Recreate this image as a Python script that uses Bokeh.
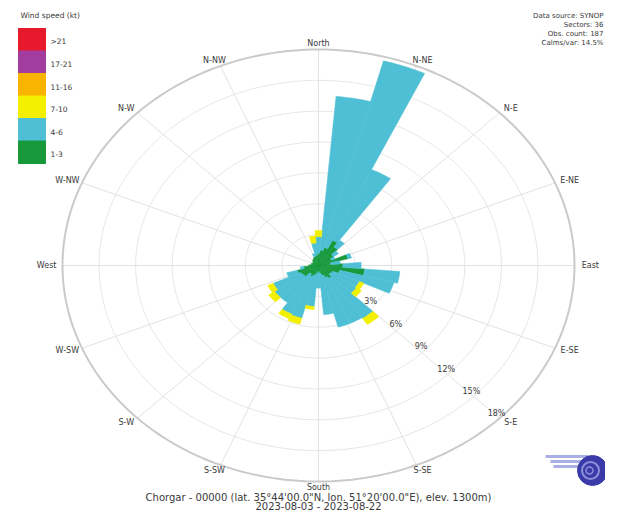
import numpy as np
from bokeh.plotting import figure
from bokeh.models import Range1d
from bokeh.core.properties import value
from bokeh.embed import file_html
from bokeh.resources import INLINE

# ---------------- data ----------------
sector_bearings = [0, 10, 20, 30, 40, 50, 60, 70, 80, 90, 100, 110,
                   120, 130, 140, 150, 160, 170, 180, 190, 200, 210, 220, 230,
                   240, 250, 260, 270, 280, 290, 300, 310, 320, 330, 340, 350]
speed_classes = ["1-3", "4-6", "7-10", "11-16", "17-21", ">21"]
speed_colors = ["#17993c", "#4fbfd5", "#f2ef00", "#f8b400", "#a23c9f", "#e8192c"]

freq_1_3 = [1.2, 1.5, 1.8, 2.7, 2.2, 1.5, 1.2, 2.5, 1.0, 2.0, 3.8, 1.8,
            1.3, 1.2, 1.5, 1.3, 1.0, 0.8, 0.6, 0.8, 1.0, 1.2, 1.0, 1.5,
            1.6, 1.8, 1.2, 0.8, 0.6, 0.6, 0.5, 0.6, 0.7, 0.8, 0.9, 1.0]
freq_4_6 = [1.6, 15.0, 18.8, 7.6, 0.8, 0.5, 0.3, 0.3, 0.8, 1.5, 2.9, 4.6,
            2.4, 2.6, 4.8, 4.9, 5.2, 4.0, 1.6, 3.2, 4.3, 4.0, 3.4, 2.9,
            2.5, 0.9, 0.3, 0.0, 0.0, 0.0, 0.0, 0.0, 0.0, 0.0, 0.3, 1.2]
freq_7_10 = [0.6, 0.0, 0.0, 0.0, 0.0, 0.0, 0.0, 0.0, 0.0, 0.0, 0.0, 0.0,
             0.4, 0.5, 0.7, 0.0, 0.0, 0.0, 0.0, 0.3, 0.6, 0.5, 0.0, 0.6,
             0.5, 0.0, 0.0, 0.0, 0.0, 0.0, 0.0, 0.0, 0.0, 0.0, 0.0, 0.7]
freq_11_16 = [0.0, 0.0, 0.0, 0.0, 0.0, 0.0, 0.0, 0.0, 0.0, 0.0, 0.0, 0.0,
              0.0, 0.0, 0.0, 0.0, 0.0, 0.0, 0.0, 0.0, 0.0, 0.0, 0.0, 0.0,
              0.0, 0.0, 0.0, 0.0, 0.0, 0.0, 0.0, 0.0, 0.0, 0.0, 0.0, 0.0]
freq_17_21 = [0.0, 0.0, 0.0, 0.0, 0.0, 0.0, 0.0, 0.0, 0.0, 0.0, 0.0, 0.0,
              0.0, 0.0, 0.0, 0.0, 0.0, 0.0, 0.0, 0.0, 0.0, 0.0, 0.0, 0.0,
              0.0, 0.0, 0.0, 0.0, 0.0, 0.0, 0.0, 0.0, 0.0, 0.0, 0.0, 0.0]
freq_gt_21 = [0.0, 0.0, 0.0, 0.0, 0.0, 0.0, 0.0, 0.0, 0.0, 0.0, 0.0, 0.0,
              0.0, 0.0, 0.0, 0.0, 0.0, 0.0, 0.0, 0.0, 0.0, 0.0, 0.0, 0.0,
              0.0, 0.0, 0.0, 0.0, 0.0, 0.0, 0.0, 0.0, 0.0, 0.0, 0.0, 0.0]

ring_values = [3, 6, 9, 12, 15, 18]
ring_labels = ["3%", "6%", "9%", "12%", "15%", "18%"]
ring_max = 21
direction_labels = ["North", "N-NE", "N-E", "E-NE", "East", "E-SE", "S-E", "S-SE",
                    "South", "S-SW", "S-W", "W-SW", "West", "W-NW", "N-W", "N-NW"]
legend_title = "Wind speed (kt)"
info_lines = ["Data source: SYNOP", "Sectors: 36", "Obs. count: 187", "Calms/var: 14.5%"]
footer_lines = ["Chorgar - 00000 (lat. 35\u00b044'00.0\"N, lon. 51\u00b020'00.0\"E), elev. 1300m)",
                "2023-08-03 - 2023-08-22"]

# ---------------- layout ----------------
W, H = 605, 511
CX, CY = 318, 265          # centre of rose on canvas (px)
RX, RY = 256, 216          # pixel half-axes of outer ring
FONT = value("DejaVu Sans")
TXT = "#3a3a3a"


def dx(px):
    return (px - CX) / RX * ring_max


def dy(py):
    return (CY - py) / RY * ring_max


p = figure(width=W, height=H, output_backend="svg", toolbar_location=None, tools="",
           x_range=Range1d(dx(0), dx(W)), y_range=Range1d(dy(H), dy(0)),
           x_axis_location=None, y_axis_location=None, min_border=0)
p.grid.visible = False
p.outline_line_color = None
p.background_fill_color = "white"
p.border_fill_color = "white"

# grid rings
t = np.radians(np.linspace(0, 360, 241))
ring_xs = [list(r * np.sin(t)) for r in ring_values]
ring_ys = [list(r * np.cos(t)) for r in ring_values]
p.multi_line(ring_xs, ring_ys, line_color="#e6e6e6", line_width=1)
# radial lines
dir_b = np.radians(np.arange(16) * 22.5)
p.segment(x0=np.zeros(16), y0=np.zeros(16), x1=ring_max * np.sin(dir_b),
          y1=ring_max * np.cos(dir_b), line_color="#e2e2e2", line_width=1)

# petals
series = [freq_1_3, freq_4_6, freq_7_10, freq_11_16, freq_17_21, freq_gt_21]
cum = np.zeros(len(sector_bearings))
xs, ys, cols = [], [], []
half = 5.0
for freq, col in zip(series, speed_colors):
    f_arr = np.array(freq, dtype=float)
    for b, f, c0 in zip(sector_bearings, f_arr, cum):
        if f <= 0:
            continue
        a = np.radians(np.linspace(b - half, b + half, 8))
        r0, r1 = c0, c0 + f
        xs.append(list(np.concatenate([r1 * np.sin(a), r0 * np.sin(a[::-1])])))
        ys.append(list(np.concatenate([r1 * np.cos(a), r0 * np.cos(a[::-1])])))
        cols.append(col)
    cum = cum + f_arr
p.patches(xs, ys, fill_color=cols, line_color=cols, line_width=0.5)

# outer ring
p.line(ring_max * np.sin(t), ring_max * np.cos(t), line_color="#cacaca", line_width=2)

# ring labels
rb = np.radians(136.5)
p.text(x=[r * np.sin(rb) for r in ring_values], y=[r * np.cos(rb) for r in ring_values],
       text=ring_labels, x_offset=27, y_offset=14, text_font=FONT,
       text_font_size=value("8px"), text_color=TXT,
       text_align="center", text_baseline="middle")

# direction labels
p.text(x=list(22.3 * np.sin(dir_b)), y=list(21.6 * np.cos(dir_b)), text=direction_labels,
       text_font=FONT, text_font_size=value("8px"), text_color=TXT,
       text_align="center", text_baseline="middle")

# legend (colour bar)
box_h = 22.5
top0 = 28
leg_order = list(range(len(speed_classes)))[::-1]
tops = [top0 + i * box_h for i in range(len(speed_classes))]
p.quad(left=dx(18), right=dx(45), top=[dy(tp) for tp in tops],
       bottom=[dy(tp + box_h) for tp in tops],
       fill_color=[speed_colors[k] for k in leg_order],
       line_color=[speed_colors[k] for k in leg_order])
p.text(x=dx(50), y=[dy(tp + box_h / 2 + 2) for tp in tops],
       text=[speed_classes[k] for k in leg_order], text_font=FONT,
       text_font_size=value("7.5px"), text_color=TXT,
       text_align="left", text_baseline="middle")
p.text(x=[dx(20)], y=[dy(15)], text=[legend_title], text_font=FONT,
       text_font_size=value("7.5px"), text_color=TXT,
       text_align="left", text_baseline="middle")

# info block (top right)
p.text(x=dx(603), y=[dy(15 + 9 * i) for i in range(len(info_lines))], text=info_lines,
       text_font=FONT, text_font_size=value("7px"), text_color=TXT,
       text_align="right", text_baseline="middle")

# footer
p.text(x=[0, 0], y=[dy(497), dy(505.5)], text=footer_lines, text_font=FONT,
       text_font_size=value("10px"), text_color=TXT,
       text_align="center", text_baseline="middle")

# logo (decorative)
p.segment(x0=[dx(545), dx(550), dx(553)], y0=[dy(456), dy(461), dy(466)],
          x1=[dx(588), dx(588), dx(588)], y1=[dy(456), dy(461), dy(466)],
          line_color="#aab0e6", line_width=3)
p.scatter(x=[dx(592)], y=[dy(470)], size=30, marker="circle",
          fill_color="#3a3aa8", line_color="#3a3aa8")
p.scatter(x=[dx(590)], y=[dy(470)], size=17, marker="circle",
          fill_color=None, line_color="#8d90d8", line_width=2)
p.scatter(x=[dx(589)], y=[dy(470)], size=7, marker="circle",
          fill_color=None, line_color="#8d90d8", line_width=1.5)

open("out.html", "w").write(file_html(p, INLINE))
